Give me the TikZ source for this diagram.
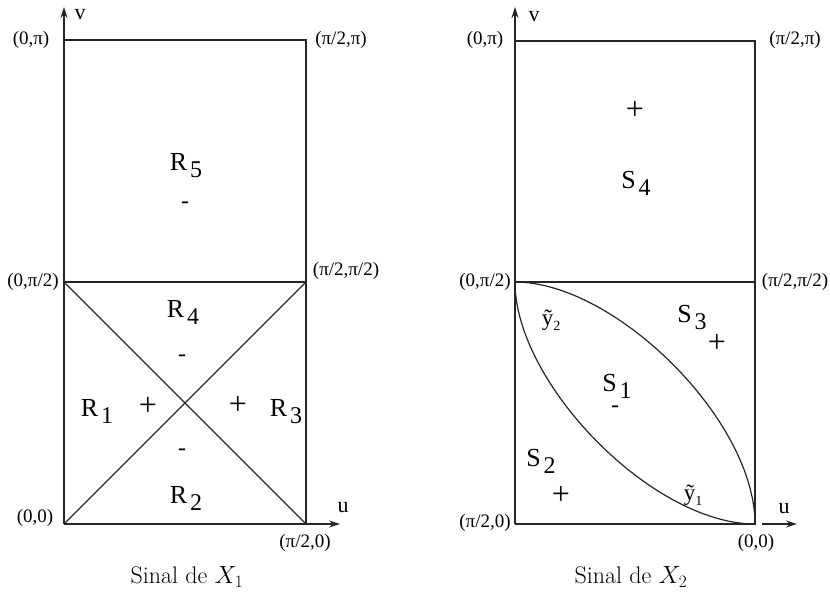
\documentclass[tikz,border=0pt]{standalone}
\usepackage{fontspec}
\newfontfamily\lbl{Liberation Serif}
\usetikzlibrary{arrows.meta}
\tikzset{
  ln/.style={line width=1.2pt, draw=black!85},
  ax/.style={ln, -{Stealth[length=11pt,width=7pt]}},
  lbl/.style={font=\lbl\fontsize{19}{21}\selectfont, inner sep=0pt},
  reg/.style={font=\lbl\fontsize{26}{28}\selectfont, inner sep=0pt},
  sgn/.style={font=\lbl\fontsize{32}{34}\selectfont, inner sep=0pt},
  mns/.style={font=\lbl\fontsize{24}{26}\selectfont, inner sep=0pt},
  axl/.style={font=\lbl\fontsize{22}{24}\selectfont, inner sep=0pt},
  crv/.style={font=\lbl\fontsize{23}{25}\selectfont, inner sep=0pt},
  capt/.style={font=\fontsize{24}{28}\selectfont, inner sep=0pt}
}
\newcommand{\rsub}[2]{#1\hspace{3pt}\raisebox{-7pt}{\fontsize{24}{26}\selectfont #2}}
\newcommand{\ysub}[1]{ỹ\raisebox{-5pt}{\fontsize{14}{15}\selectfont #1}}
\begin{document}
\begin{tikzpicture}[x=1pt,y=-1pt]
\useasboundingbox (0,0) rectangle (830,597);
% ---------- left panel ----------
\coordinate (a00) at (64,524);
\coordinate (a10) at (306,524);
\coordinate (a01) at (64,40);
\coordinate (a11) at (306,40);
\coordinate (am0) at (64,282);
\coordinate (am1) at (306,282);
\coordinate (avt) at (64,7);
\coordinate (aut) at (340,524);
\draw[ax] (a00) -- (avt);
\draw[ax] (a00) -- (aut);
\draw[ln] (a01) -- (a11) -- (a10);
\draw[ln] (am0) -- (am1);
\draw[ln] (am0) -- (a10);
\draw[ln] (a00) -- (am1);
\node[axl] (av) at (80,15) {v};
\node[axl] (au) at (343,508) {u};
\node[lbl] (l01) at (31,40) {(0,π)};
\node[lbl] (l11) at (341,40) {(π/2,π)};
\node[lbl] (lm0) at (33,282) {(0,π/2)};
\node[lbl] (lm1) at (346,271) {(π/2,π/2)};
\node[lbl] (l00) at (35,518) {(0,0)};
\node[lbl] (l10) at (305,543) {(π/2,0)};
\node[reg] (R5) at (186,166) {\rsub{R}{5}};
\node[mns] (m5) at (185,205) {-};
\node[reg] (R4) at (183,312) {\rsub{R}{4}};
\node[mns] (m4) at (182,358) {-};
\node[reg] (R1) at (97,411) {\rsub{R}{1}};
\node[sgn] (p1) at (148,406) {+};
\node[sgn] (p3) at (238,405) {+};
\node[reg] (R3) at (286,412) {\rsub{R}{3}};
\node[mns] (m2) at (182,452) {-};
\node[reg] (R2) at (186,498) {\rsub{R}{2}};
\node[capt] (c1) at (187,577) {Sinal de $X_1$};
% ---------- right panel ----------
\coordinate (b00) at (515,524);
\coordinate (b10) at (755,524);
\coordinate (b01) at (515,41);
\coordinate (b11) at (755,41);
\coordinate (bm0) at (515,282);
\coordinate (bm1) at (755,282);
\coordinate (bvt) at (515,7);
\coordinate (bus) at (762,524);
\coordinate (but) at (797,524);
\draw[ax] (b00) -- (bvt);
\draw[ax] (bus) -- (but);
\draw[ln] (b00) -- (b10) -- (b11) -- (b01);
\draw[ln] (bm0) -- (bm1);
\draw[ln] (bm0) .. controls (615,282) and (755,420) .. (b10);
\draw[ln] (bm0) .. controls (515,383) and (652,524) .. (b10);
\node[axl] (bv) at (534,17) {v};
\node[axl] (bu) at (784,509) {u};
\node[lbl] (k01) at (485,40) {(0,π)};
\node[lbl] (k11) at (795,40) {(π/2,π)};
\node[lbl] (km0) at (485,282) {(0,π/2)};
\node[lbl] (km1) at (795,282) {(π/2,π/2)};
\node[lbl] (k00) at (485,523) {(π/2,0)};
\node[lbl] (k10) at (756,543) {(0,0)};
\node[sgn] (q4) at (635,110) {+};
\node[reg] (S4) at (636,183) {\rsub{S}{4}};
\node[crv] (y2) at (551,320) {\ysub{2}};
\node[reg] (S3) at (692,318) {\rsub{S}{3}};
\node[sgn] (q3) at (717,343) {+};
\node[reg] (S1) at (617,386) {\rsub{S}{1}};
\node[mns] (n1) at (615,409) {-};
\node[reg] (S2) at (541,461) {\rsub{S}{2}};
\node[sgn] (q2) at (561,495) {+};
\node[crv] (y1) at (693,495) {\ysub{1}};
\node[capt] (c2) at (631,577) {Sinal de $X_2$};
\end{tikzpicture}
\end{document}
